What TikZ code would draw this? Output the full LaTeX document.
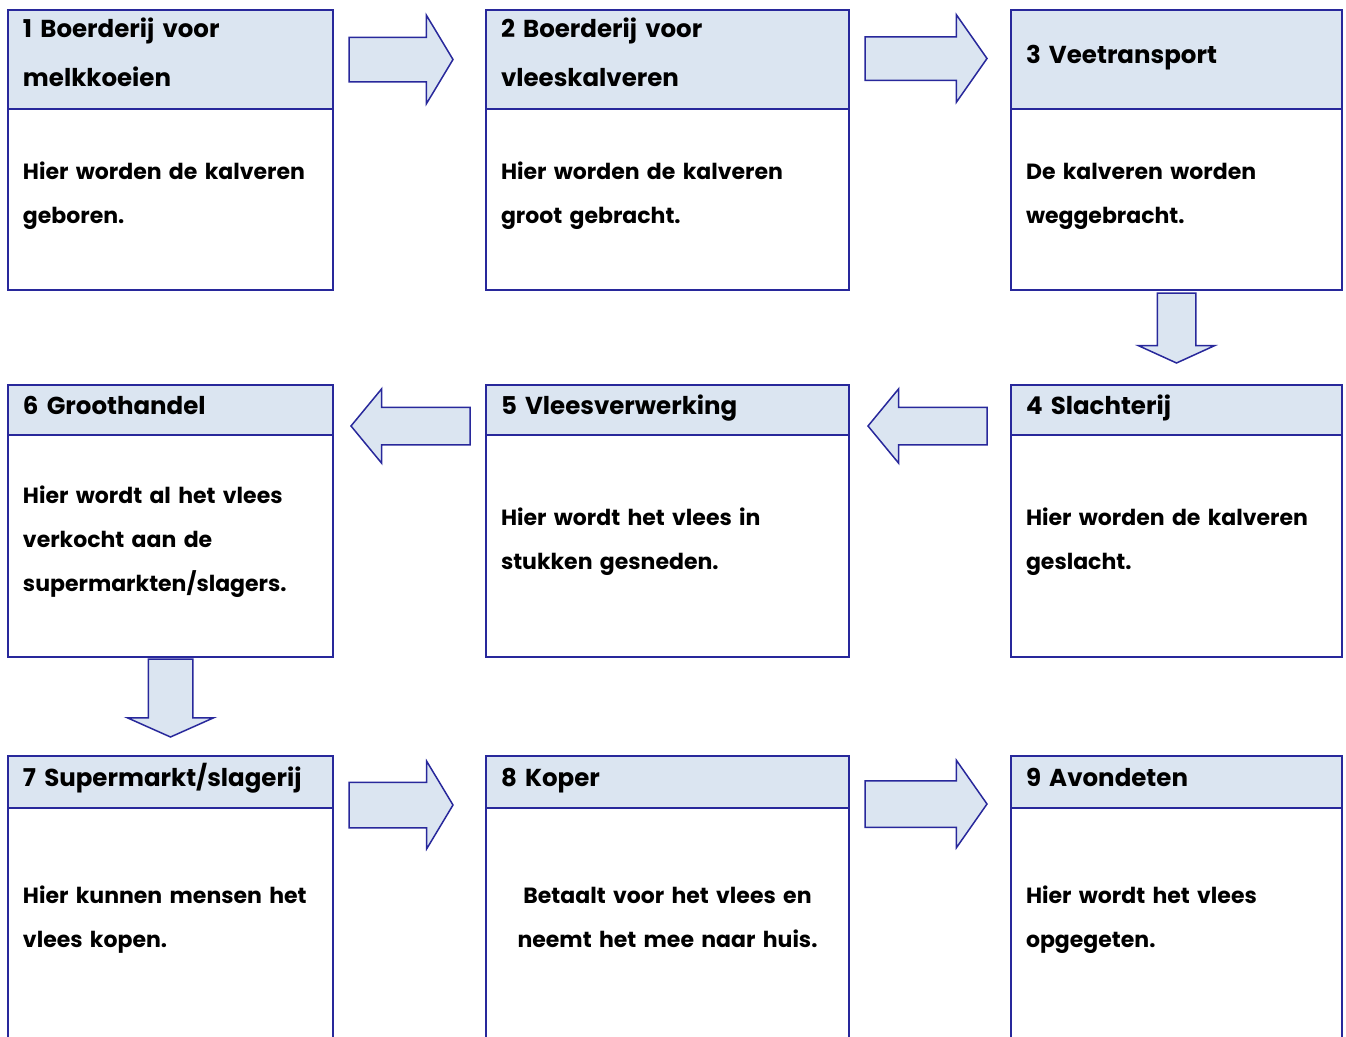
\documentclass[tikz,border=0pt]{standalone}
\usepackage{fontspec}
\setmainfont{Poppins}
\usetikzlibrary{positioning, shapes.arrows, calc}
\definecolor{lijnblauw}{RGB}{40,40,155}
\definecolor{kopblauw}{RGB}{219,229,241}

\begin{document}
\begin{tikzpicture}[x=1pt, y=-1pt,
    kop/.style={draw=lijnblauw, fill=kopblauw, line width=1.5pt, outer sep=0pt,
        inner xsep=15pt, inner ysep=0pt, anchor=north west, align=left,
        text height=17pt, text depth=9pt,
        font=\fontsize{24.5}{49}\selectfont\bfseries},
    kop2/.style={kop, text depth=62pt},
    romp/.style={draw=lijnblauw, line width=1.5pt, outer sep=0pt,
        inner xsep=15pt, inner ysep=0pt, align=left, below=0pt of #1,
        text height=16pt, text depth=57pt,
        font=\fontsize{22}{44}\selectfont\bfseries},
    drie/.style={text depth=101pt},
    pijl/.style={single arrow, draw=lijnblauw, fill=kopblauw, line width=1.5pt,
        outer sep=0pt, inner sep=21.5pt, minimum width=0pt, minimum height=104pt,
        single arrow head extend=22pt, single arrow tip angle=118, anchor=tail}]
    \useasboundingbox (0,0) rectangle (1346,1036);

    % bovenste rij
    \node [kop2, text width=295pt, minimum height=99pt] (k1) at (8,10) {1 Boerderij voor\\melkkoeien};
    \node [romp=k1, text width=295pt, minimum height=181pt] (r1) {Hier worden de kalveren\\geboren.};
    \node [kop2, text width=333pt, minimum height=99pt] (k2) at (486,10) {2 Boerderij voor\\vleeskalveren};
    \node [romp=k2, text width=333pt, minimum height=181pt] (r2) {Hier worden de kalveren\\groot gebracht.};
    \node [kop, text width=301pt, minimum height=99pt] (k3) at (1011,10) {3 Veetransport};
    \node [romp=k3, text width=301pt, minimum height=181pt] (r3) {De kalveren worden\\weggebracht.};

    % middelste rij
    \node [kop, text width=301pt, minimum height=50pt] (k4) at (1011,385) {4 Slachterij};
    \node [romp=k4, text width=301pt, minimum height=222pt] (r4) {Hier worden de kalveren\\geslacht.};
    \node [kop, text width=333pt, minimum height=50pt] (k5) at (486,385) {5 Vleesverwerking};
    \node [romp=k5, text width=333pt, minimum height=222pt] (r5) {Hier wordt het vlees in\\stukken gesneden.};
    \node [kop, text width=295pt, minimum height=50pt] (k6) at (8,385) {6 Groothandel};
    \node [romp=k6, drie, text width=295pt, minimum height=222pt] (r6) {Hier wordt al het vlees\\verkocht aan de\\supermarkten/slagers.};

    % onderste rij
    \node [kop, text width=295pt, minimum height=52pt] (k7) at (8,756) {7 Supermarkt/slagerij};
    \node [romp=k7, text width=295pt, minimum height=232pt] (r7) {Hier kunnen mensen het\\vlees kopen.};
    \node [kop, text width=333pt, minimum height=52pt] (k8) at (486,756) {8 Koper};
    \node [romp=k8, text width=333pt, minimum height=232pt, align=center] (r8) {Betaalt voor het vlees en\\neemt het mee naar huis.};
    \node [kop, text width=301pt, minimum height=52pt] (k9) at (1011,756) {9 Avondeten};
    \node [romp=k9, text width=301pt, minimum height=232pt] (r9) {Hier wordt het vlees\\opgegeten.};

    % pijlen
    \node [pijl] (p12) at ($(k1.east)+(16,0)$) {};
    \node [pijl, inner sep=21pt, minimum height=122pt, single arrow head extend=22pt,
        single arrow tip angle=110] (p23) at ($(k2.east)+(16,-1)$) {};
    \node [pijl, shape border rotate=270, inner sep=18.5pt, minimum height=70pt,
        single arrow head extend=19pt, single arrow tip angle=131] (p34) at ($(r3.south)+(0,3)$) {};
    \node [pijl, shape border rotate=180, inner sep=18pt, minimum height=119pt,
        single arrow head extend=18.5pt, single arrow tip angle=101] (p45) at ($(k4.west)+(-24,16)$) {};
    \node [pijl, shape border rotate=180, inner sep=18pt, minimum height=119pt,
        single arrow head extend=18.5pt, single arrow tip angle=101] (p56) at ($(k5.west)+(-16,16)$) {};
    \node [pijl, shape border rotate=270, inner sep=21.5pt, minimum height=78pt,
        single arrow head extend=21pt, single arrow tip angle=132] (p67) at ($(r6.south)+(0,2)$) {};
    \node [pijl, inner sep=22pt, single arrow head extend=21pt] (p78) at ($(k7.east)+(16,23)$) {};
    \node [pijl, inner sep=22.5pt, minimum height=122pt, single arrow head extend=20.5pt,
        single arrow tip angle=110] (p89) at ($(k8.east)+(16,22)$) {};
\end{tikzpicture}
\end{document}
